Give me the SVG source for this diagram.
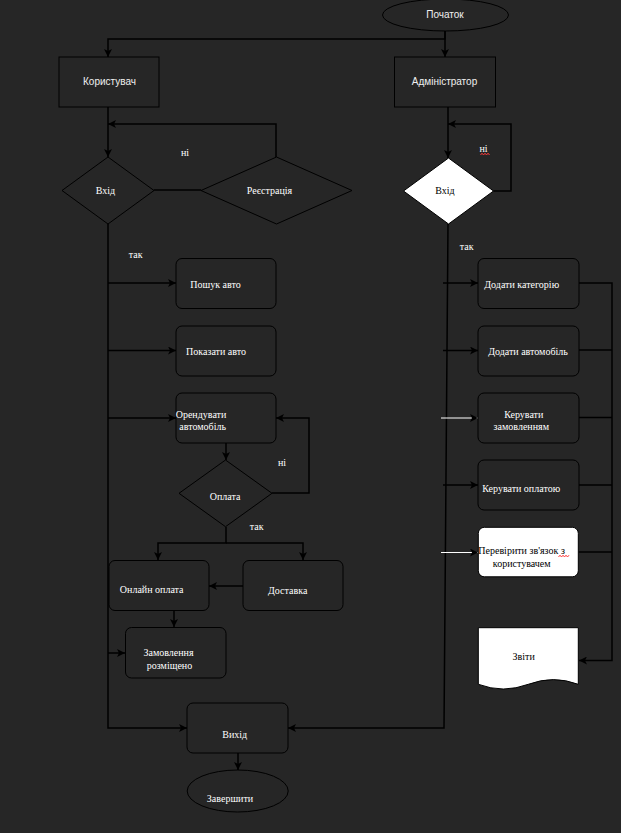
<svg xmlns="http://www.w3.org/2000/svg" width="621" height="833" viewBox="0 0 621 833">
<style>
.sh{fill:#262626;stroke:#000;stroke-width:1}
.wh{fill:#fff;stroke:#000;stroke-width:1}
.c{fill:none;stroke:#000;stroke-width:1.5}
.cw{fill:none;stroke:#fff;stroke-width:1}
.sans{font-family:"Liberation Sans",Arial,sans-serif;font-size:10px;fill:#f0f0f0;text-anchor:middle}
.ser{font-family:"Liberation Serif","Times New Roman",serif;font-size:10px;fill:#fff;text-anchor:middle}
.blk{fill:#000}
.sq{fill:none;stroke:#ff3b3b;stroke-width:1}
</style>
<defs>
<marker id="a" markerUnits="userSpaceOnUse" markerWidth="9" markerHeight="8" refX="8" refY="4" orient="auto">
<path d="M0,0 L8,4 L0,8 L2,4 z" fill="#000"/>
</marker>
</defs>
<rect x="0" y="0" width="621" height="833" fill="#262626"/>

<g id="connectors">
<path class="c" d="M445,31 V39 H108 V57" marker-end="url(#a)"/>
<path class="c" d="M445,31 V57" marker-end="url(#a)"/>
<path class="c" d="M108,107 V157" marker-end="url(#a)"/>
<path class="c" d="M276,157 V124 H108" marker-end="url(#a)"/>
<path class="c" d="M154,190 H201"/>
<path class="c" d="M448,107 V158" marker-end="url(#a)"/>
<path class="c" d="M493,191 H511 V124 H448" marker-end="url(#a)"/>
<path class="c" d="M108,224 V728 H187" marker-end="url(#a)"/>
<path class="c" d="M108,283 H176" marker-end="url(#a)"/>
<path class="c" d="M108,350.5 H176" marker-end="url(#a)"/>
<path class="c" d="M108,418 H176" marker-end="url(#a)"/>
<path class="c" d="M108,653 H125" marker-end="url(#a)"/>
<path class="c" d="M226,443 V460" marker-end="url(#a)"/>
<path class="c" d="M272,493 H309 V418 H276" marker-end="url(#a)"/>
<path class="c" d="M226,527 V543 H158 V560" marker-end="url(#a)"/>
<path class="c" d="M226,543 H303 V560" marker-end="url(#a)"/>
<path class="c" d="M243,586 H209" marker-end="url(#a)"/>
<path class="c" d="M174,611 V627" marker-end="url(#a)"/>
<path class="c" d="M238,753 V770" marker-end="url(#a)"/>
<path class="c" d="M448,224 L444,728 H288" marker-end="url(#a)"/>
<path class="c" d="M443,283 H478" marker-end="url(#a)"/>
<path class="c" d="M443,350.5 H478" marker-end="url(#a)"/>
<path class="cw" d="M441,418 H478" marker-end="url(#a)"/>
<path class="c" d="M443,485 H478" marker-end="url(#a)"/>
<path class="cw" d="M441,552.5 H478" marker-end="url(#a)"/>
<path class="c" d="M579,283 H612 V660.5 H579" marker-end="url(#a)"/>
<path class="c" d="M579,350 H612"/>
<path class="c" d="M579,417.5 H612"/>
<path class="c" d="M579,485 H612"/>
<path class="c" d="M578,552 H612"/>
</g>

<g id="start"><ellipse class="sh" cx="445.5" cy="15" rx="63" ry="16"/><text class="sans" x="445" y="17.5">Початок</text></g>
<g id="user"><rect class="sh" x="59" y="57" width="100" height="50"/><text class="sans" x="109.5" y="84.5">Користувач</text></g>
<g id="admin"><rect class="sh" x="394.5" y="57" width="101" height="50"/><text class="sans" x="444.5" y="84.5">Адміністратор</text></g>

<g id="login-user"><polygon class="sh" points="108,157 154,190.5 108,224 62,190.5"/><text class="ser" x="105.5" y="193.5">Вхід</text></g>
<g id="register"><polygon class="sh" points="276.5,157 352,190.5 276.5,224 201,190.5"/><text class="ser" x="269.5" y="193.5">Реєстрація</text></g>
<g id="label-no1"><text class="ser" x="185" y="155.5">ні</text></g>

<g id="login-admin"><polygon class="wh" points="448.5,158 493.5,191 448.5,224 403.5,191"/><text class="ser blk" x="445" y="193.5">Вхід</text></g>
<g id="label-no2"><text class="ser" x="483.6" y="151.5">ні</text><path class="sq" d="M480.5,155 l1.5,-1.8 l1.5,1.8 l1.5,-1.8 l1.5,1.8 l1.5,-1.8 l1.5,1.8"/></g>

<g id="label-yes1"><text class="ser" x="135.7" y="257.5">так</text></g>
<g id="search"><rect class="sh" x="176" y="258.5" width="100" height="50" rx="6"/><text class="ser" x="215.5" y="287.5">Пошук авто</text></g>
<g id="show"><rect class="sh" x="176" y="326" width="100" height="50" rx="6"/><text class="ser" x="216" y="355">Показати авто</text></g>
<g id="rent"><rect class="sh" x="176" y="393" width="100" height="50" rx="6"/><text class="ser" x="201" y="417.5">Орендувати</text><text class="ser" x="202.7" y="430.2">автомобіль</text></g>
<g id="payment"><polygon class="sh" points="225.5,460 272,493.3 225.5,526.7 179,493.3"/><text class="ser" x="225" y="499.8">Оплата</text></g>
<g id="label-no3"><text class="ser" x="282" y="466.2">ні</text></g>
<g id="label-yes2"><text class="ser" x="256.7" y="529.5">так</text></g>
<g id="online"><rect class="sh" x="109" y="560.5" width="100" height="50" rx="6"/><text class="ser" x="151.7" y="593.2">Онлайн оплата</text></g>
<g id="delivery"><rect class="sh" x="243" y="560.5" width="100" height="50" rx="6"/><text class="ser" x="287.7" y="593.5">Доставка</text></g>
<g id="placed"><rect class="sh" x="125.5" y="627.5" width="100.5" height="50.5" rx="6"/><text class="ser" x="168.5" y="656.2">Замовлення</text><text class="ser" x="169.5" y="669.2">розміщено</text></g>
<g id="exit"><rect class="sh" x="187" y="703" width="101" height="50" rx="6"/><text class="ser" x="234.7" y="737.8">Вихід</text></g>
<g id="finish"><ellipse class="sh" cx="237.7" cy="791" rx="50.5" ry="21"/><text class="ser" x="230" y="801.5">Завершити</text></g>

<g id="label-yes3"><text class="ser" x="466.7" y="249.5">так</text></g>
<g id="add-category"><rect class="sh" x="478" y="258.5" width="101" height="50" rx="6"/><text class="ser" x="521.7" y="287.5">Додати категорію</text></g>
<g id="add-car"><rect class="sh" x="478" y="326" width="101" height="50" rx="6"/><text class="ser" x="528" y="355.2">Додати автомобіль</text></g>
<g id="manage-orders"><rect class="sh" x="478" y="393" width="101" height="50" rx="6"/><text class="ser" x="523.8" y="417.8">Керувати</text><text class="ser" x="521.3" y="430.2">замовленням</text></g>
<g id="manage-payment"><rect class="sh" x="478" y="460" width="101" height="50" rx="6"/><text class="ser" x="521.2" y="491.5">Керувати оплатою</text></g>
<g id="check-contact"><rect class="wh" x="478.3" y="527.3" width="100" height="49.5" rx="6"/><text class="ser blk" style="text-anchor:start" x="478.3" y="554"><tspan>Перевірити зв'язок</tspan><tspan x="561">з</tspan></text><text class="ser blk" x="521.7" y="567.2">користувачем</text><path class="sq" d="M558.5,557 l1.5,-1.8 l1.5,1.8 l1.5,-1.8 l1.5,1.8 l1.5,-1.8 l1.5,1.8 l1.5,-1.8"/></g>
<g id="reports"><path class="wh" d="M478.3,627.7 H578.3 V684.3 Q553.3,674.9 528.3,684.3 Q503.3,693.7 478.3,684.3 Z"/><text class="ser blk" x="523.7" y="660.2">Звіти</text></g>
</svg>
